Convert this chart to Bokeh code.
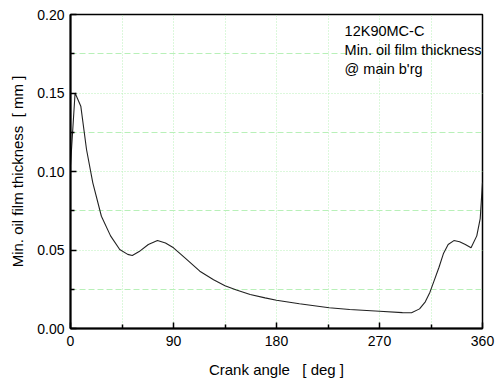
from bokeh.plotting import figure
from bokeh.models import Range1d, FixedTicker, PrintfTickFormatter
from bokeh.core.properties import value
from bokeh.embed import file_html
from bokeh.resources import INLINE

crank_deg = [0, 4, 9, 14, 19.5, 27, 35, 43, 50, 54, 60, 68, 76, 83, 90, 100,
             113, 125, 135, 145, 157, 170, 180, 200, 226, 244, 270, 290, 298,
             305, 310, 314, 318, 322, 326, 330, 335, 340, 345, 350, 355, 358, 360]
film_mm = [0.104, 0.150, 0.1416, 0.114, 0.0928, 0.0715, 0.059, 0.0503, 0.0472,
           0.0465, 0.049, 0.0535, 0.056, 0.0545, 0.0514, 0.045, 0.0365, 0.031,
           0.0272, 0.0245, 0.0217, 0.0195, 0.018, 0.0158, 0.0132, 0.0121, 0.011,
           0.0101, 0.0100, 0.0125, 0.017, 0.023, 0.031, 0.039, 0.048, 0.0535,
           0.056, 0.0553, 0.0535, 0.0514, 0.059, 0.070, 0.093]

x_major = [0, 90, 180, 270, 360]
x_minor = [45, 135, 225, 315]
y_major = [0.0, 0.05, 0.10, 0.15, 0.20]
y_minor = [0.025, 0.075, 0.125, 0.175]

note_lines = ["12K90MC-C", "Min. oil film thickness", "@ main b'rg"]

FONT = "Liberation Sans"
GRID = "#b8f0b8"

p = figure(width=495, height=380, output_backend="svg", toolbar_location=None,
           x_range=Range1d(0, 360), y_range=Range1d(0, 0.2),
           min_border_left=70, min_border_right=13, min_border_top=14,
           min_border_bottom=52)
p.background_fill_color = "white"
p.border_fill_color = "white"
p.outline_line_color = "black"
p.outline_line_width = 1.5

p.xaxis.ticker = FixedTicker(ticks=x_major, minor_ticks=x_minor)
p.yaxis.ticker = FixedTicker(ticks=y_major, minor_ticks=y_minor)
p.yaxis.formatter = PrintfTickFormatter(format="%.2f")

for ax in (p.xaxis, p.yaxis):
    ax.axis_line_width = 2
    ax.axis_line_color = "black"
    ax.major_tick_in = 6
    ax.major_tick_out = 0
    ax.minor_tick_in = 4
    ax.minor_tick_out = 0
    ax.major_tick_line_width = 1.5
    ax.minor_tick_line_width = 1.5
    ax.major_label_text_font = FONT
    ax.major_label_text_font_size = "14px"
    ax.major_label_text_color = "black"
    ax.axis_label_text_font = FONT
    ax.axis_label_text_font_size = "15px"
    ax.axis_label_text_font_style = "normal"
    ax.axis_label_text_color = "black"

p.xaxis.axis_label = "Crank angle \u00a0 [ deg ]"
p.yaxis.axis_label = "Min. oil film thickness \u00a0[ mm ]"
p.xaxis.major_label_standoff = 7
p.xaxis.axis_label_standoff = 12
p.yaxis.major_label_standoff = 6
p.yaxis.axis_label_standoff = 8

p.xgrid.grid_line_color = GRID
p.xgrid.grid_line_dash = "1 2"
p.xgrid.minor_grid_line_color = GRID
p.xgrid.minor_grid_line_dash = "1 2"
p.ygrid.grid_line_color = GRID
p.ygrid.grid_line_dash = "1 2"
p.ygrid.minor_grid_line_color = GRID
p.ygrid.minor_grid_line_dash = "6 3"

p.line(crank_deg, film_mm, line_color="#222222", line_width=1.1)

note_x = 239.5
note_y0 = 0.1892
note_dy = 0.0121
p.text(x=[note_x] * len(note_lines),
       y=[note_y0 - i * note_dy for i in range(len(note_lines))],
       text=note_lines, text_font=value(FONT), text_font_size="14.5px",
       text_baseline="middle", text_align="left", text_color="black")

open("out.html", "w").write(file_html(p, INLINE))
